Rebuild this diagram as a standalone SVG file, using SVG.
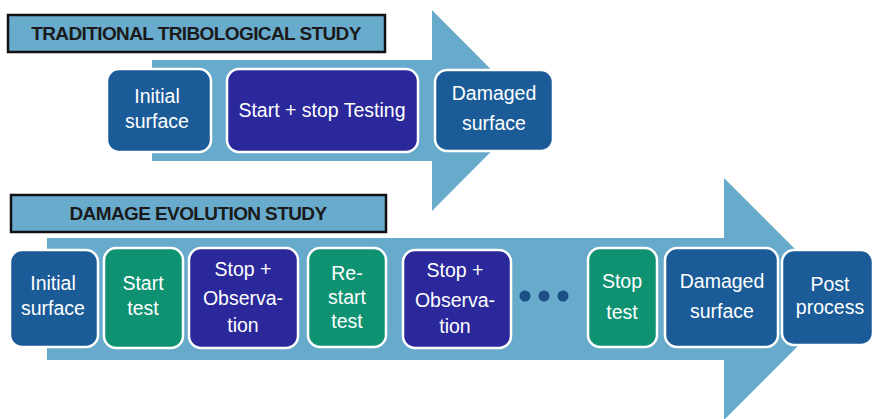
<svg xmlns="http://www.w3.org/2000/svg" width="874" height="419" viewBox="0 0 874 419">
  <defs>
    <style>
      .arrow { fill: #67aacc; }
      .title { fill: #69abcd; stroke: #111111; stroke-width: 2.5; }
      .ttxt { font-family: "Liberation Sans", Arial, sans-serif; font-weight: bold; font-size: 19px; fill: #1a1a1a; text-anchor: middle; letter-spacing: -0.6px; }
      .box { stroke: #ffffff; stroke-width: 2.5; }
      .blue { fill: #1a5b98; }
      .indigo { fill: #2a289a; }
      .green { fill: #0f9272; }
      .txt { font-family: "Liberation Sans", Arial, sans-serif; font-size: 19.5px; fill: #ffffff; text-anchor: middle; }
      .dot { fill: #1b4f88; }
    </style>
  </defs>
  <rect width="874" height="419" fill="#ffffff"/>

  <g id="connectors">
    <polygon class="arrow" points="152,60 432,60 432,10 532,110.5 432,211 432,161 152,161"/>
    <polygon class="arrow" points="47,238 724,238 724,178 845,299 724,420 724,360 47,360"/>
  </g>

  <g id="title-traditional">
    <rect class="title" x="8" y="15" width="377" height="37"/>
    <text class="ttxt" x="196" y="40">TRADITIONAL TRIBOLOGICAL STUDY</text>
  </g>
  <g id="title-damage">
    <rect class="title" x="11" y="195" width="375" height="37"/>
    <text class="ttxt" x="198" y="220">DAMAGE EVOLUTION STUDY</text>
  </g>

  <g id="t-initial">
    <rect class="box blue" x="107" y="69" width="104" height="83" rx="12"/>
    <text class="txt" x="157" y="103">Initial</text>
    <text class="txt" x="157" y="128">surface</text>
  </g>
  <g id="t-startstop">
    <rect class="box indigo" x="227" y="69" width="191" height="83" rx="12"/>
    <text class="txt" x="322" y="117">Start + stop Testing</text>
  </g>
  <g id="t-damaged">
    <rect class="box blue" x="435" y="70" width="118" height="81" rx="12"/>
    <text class="txt" x="494" y="100">Damaged</text>
    <text class="txt" x="494" y="130">surface</text>
  </g>

  <g id="d-initial">
    <rect class="box blue" x="10" y="250" width="88" height="97" rx="12"/>
    <text class="txt" x="53" y="290">Initial</text>
    <text class="txt" x="53" y="315">surface</text>
  </g>
  <g id="d-start">
    <rect class="box green" x="104" y="248" width="79" height="100" rx="12"/>
    <text class="txt" x="143" y="290">Start</text>
    <text class="txt" x="143" y="315">test</text>
  </g>
  <g id="d-stop1">
    <rect class="box indigo" x="189" y="248" width="109" height="100" rx="12"/>
    <text class="txt" x="243" y="276">Stop +</text>
    <text class="txt" x="243" y="305">Observa-</text>
    <text class="txt" x="243" y="332">tion</text>
  </g>
  <g id="d-restart">
    <rect class="box green" x="308" y="248" width="78" height="99" rx="12"/>
    <text class="txt" x="347" y="280">Re-</text>
    <text class="txt" x="347" y="304">start</text>
    <text class="txt" x="347" y="328">test</text>
  </g>
  <g id="d-stop2">
    <rect class="box indigo" x="403" y="250" width="108" height="98" rx="12"/>
    <text class="txt" x="455" y="277">Stop +</text>
    <text class="txt" x="455" y="307">Observa-</text>
    <text class="txt" x="455" y="333">tion</text>
  </g>
  <g id="d-dots">
    <circle class="dot" cx="525" cy="296" r="5.5"/>
    <circle class="dot" cx="544" cy="296" r="5.5"/>
    <circle class="dot" cx="563" cy="296" r="5.5"/>
  </g>
  <g id="d-stoptest">
    <rect class="box green" x="588" y="248" width="69" height="99" rx="12"/>
    <text class="txt" x="622" y="288">Stop</text>
    <text class="txt" x="622" y="319">test</text>
  </g>
  <g id="d-damaged">
    <rect class="box blue" x="665" y="248" width="113" height="99" rx="12"/>
    <text class="txt" x="722" y="288">Damaged</text>
    <text class="txt" x="722" y="318">surface</text>
  </g>
  <g id="d-post">
    <rect class="box blue" x="782" y="250" width="91" height="95" rx="12"/>
    <text class="txt" x="830" y="291">Post</text>
    <text class="txt" x="830" y="314">process</text>
  </g>
</svg>
